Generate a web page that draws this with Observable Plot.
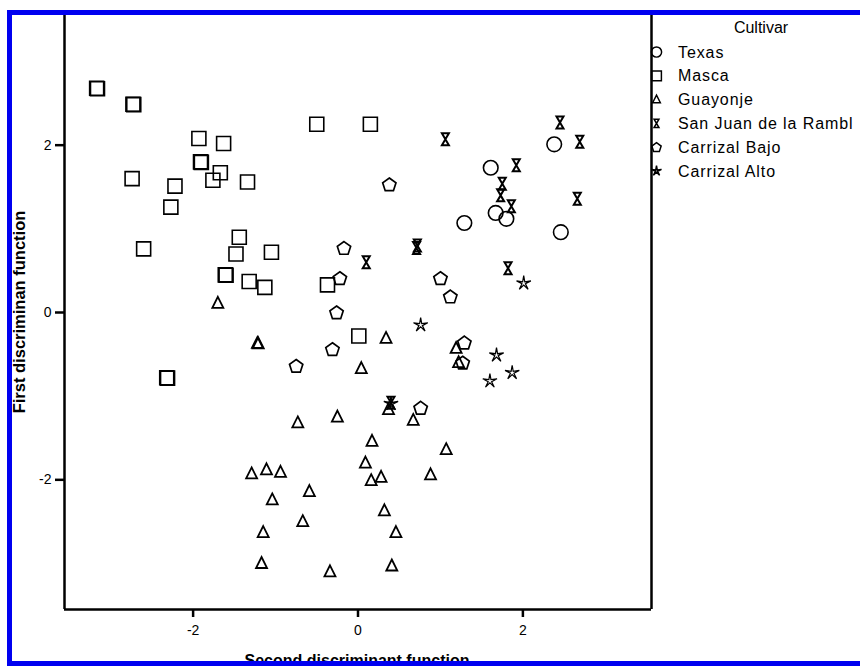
<!DOCTYPE html>
<html><head><meta charset="utf-8">
<script src="https://cdn.jsdelivr.net/npm/d3@7"></script>
<script src="https://cdn.jsdelivr.net/npm/@observablehq/plot@0.6"></script>
<style>body{margin:0;background:#fff}</style>
</head><body><div id="chart"></div>
<script>
// ---- Data ----
const cultivars = ["Texas", "Masca", "Guayonje", "San Juan de la Rambl", "Carrizal Bajo", "Carrizal Alto"];
const xTicks = [-2, 0, 2];
const yTicks = [-2, 0, 2];
const xDomain = [-3.56, 3.56];
const yDomain = [-3.55, 3.55];
const xTitle = "Second discriminant function";
const yTitle = "First discriminan function";
const legendTitle = "Cultivar";

const texas = [[1.61,1.73],[2.38,2.01],[1.67,1.19],[1.80,1.12],[1.29,1.07],[2.46,0.96]];
const masca = [[-3.17,2.68],[-3.16,2.675],[-2.73,2.49],[-2.72,2.485],[-1.93,2.08],[-1.63,2.02],[-1.91,1.80],[-1.90,1.795],
  [-1.67,1.67],[-1.76,1.58],[-1.34,1.56],[-2.74,1.60],[-2.22,1.51],[-2.27,1.26],[-2.60,0.76],[-1.44,0.90],
  [-1.48,0.70],[-1.05,0.72],[-1.61,0.45],[-1.60,0.445],[-1.32,0.37],[-1.13,0.30],[-0.50,2.25],[0.15,2.25],
  [-0.37,0.33],[0.01,-0.28],[-2.32,-0.78],[-2.31,-0.785]];
const guayonje = [[-1.70,0.11],[-1.22,-0.37],[-1.21,-0.375],[0.34,-0.31],[0.04,-0.67],[1.19,-0.43],[1.22,-0.60],
  [0.37,-1.16],[-0.73,-1.32],[-0.25,-1.25],[0.67,-1.29],[0.17,-1.54],[1.07,-1.64],[0.09,-1.80],
  [-1.29,-1.93],[-1.11,-1.88],[-0.94,-1.91],[0.16,-2.01],[0.28,-1.97],[0.88,-1.94],[-0.59,-2.14],
  [-1.04,-2.24],[0.32,-2.37],[-0.67,-2.50],[-1.15,-2.63],[0.46,-2.63],[-1.17,-3.00],[0.41,-3.03],[-0.34,-3.10]];
const sanJuan = [[1.06,2.07],[2.45,2.27],[2.69,2.04],[1.92,1.76],[1.75,1.54],[1.73,1.40],[1.86,1.27],[2.66,1.36],
  [1.82,0.53],[0.10,0.60],[0.71,0.77],[0.72,0.80],[0.40,-1.08]];
const carrizalBajo = [[0.38,1.53],[-0.17,0.77],[-0.22,0.41],[1.00,0.41],[1.12,0.19],[-0.26,0.00],[-0.31,-0.44],
  [-0.75,-0.64],[1.29,-0.36],[1.27,-0.60],[0.76,-1.14]];
const carrizalAlto = [[2.01,0.35],[0.76,-0.15],[1.68,-0.51],[1.87,-0.72],[1.60,-0.82],[0.40,-1.09]];

// ---- Symbols ----
function poly(c, pts){ c.moveTo(pts[0][0], pts[0][1]); for (let i=1;i<pts.length;i++) c.lineTo(pts[i][0], pts[i][1]); c.closePath(); }
const symCircle = {draw(c){ c.moveTo(7.3,0); c.arc(0,0,7.3,0,2*Math.PI); c.closePath(); }};
const symSquare = {draw(c){ poly(c, [[-7,-7],[7,-7],[7,7],[-7,7]]); }};
const symTriangle = {draw(c){ poly(c, [[0,-6.5],[5.5,4.5],[-5.5,4.5]]); }};
const symHourglass = {draw(c){ poly(c, [[-3.5,-6],[3.5,-6],[-3.5,6],[3.5,6]]); }};
const symPentagon = {draw(c){ const p=[]; for(let i=0;i<5;i++){const a=-Math.PI/2+i*2*Math.PI/5; p.push([7*Math.cos(a),7*Math.sin(a)+0.5]);} poly(c,p); }};
const symStar = {draw(c){ const p=[]; for(let i=0;i<10;i++){const a=-Math.PI/2+i*Math.PI/5; const r=i%2?1.8:7.5; p.push([r*Math.cos(a),r*Math.sin(a)]);} poly(c,p); }};

const series = [
  {name: cultivars[0], data: texas, symbol: symCircle, sw: 1.6},
  {name: cultivars[1], data: masca, symbol: symSquare, sw: 1.6},
  {name: cultivars[2], data: guayonje, symbol: symTriangle, sw: 1.8},
  {name: cultivars[3], data: sanJuan, symbol: symHourglass, sw: 2},
  {name: cultivars[4], data: carrizalBajo, symbol: symPentagon, sw: 1.7},
  {name: cultivars[5], data: carrizalAlto, symbol: symStar, sw: 1.2}
];

const FONT = "'Liberation Sans', Arial, sans-serif";

const chart = Plot.plot({
  width: 860, height: 666,
  marginLeft: 64, marginRight: 209, marginTop: 15, marginBottom: 57,
  style: {fontFamily: FONT, background: "white", overflow: "visible"},
  x: {domain: xDomain},
  y: {domain: yDomain},
  marks: [
    Plot.ruleX(xDomain, {stroke: "black", strokeWidth: 2.5}),
    Plot.ruleY([yDomain[0]], {stroke: "black", strokeWidth: 2.5}),
    Plot.axisX({ticks: xTicks, tickSize: 8, tickPadding: 8, fontSize: 14, strokeWidth: 2.5, label: null, tickFormat: d => String(d).replace("−","-")}),
    Plot.axisY({ticks: yTicks, tickSize: 9, tickPadding: 4, fontSize: 14, strokeWidth: 2.5, label: null, tickFormat: d => String(d).replace("−","-")}),
    ...series.map(s => Plot.dot(s.data, {x: d => d[0], y: d => d[1], symbol: s.symbol, stroke: "black", strokeWidth: s.sw, fill: "none"}))
  ]
});

const svg = d3.select(chart);

// axis titles
svg.append("text").attr("x", 357).attr("y", 665.5).attr("text-anchor", "middle")
  .attr("font-family", FONT).attr("font-size", 16).attr("font-weight", "bold").attr("fill", "black").text(xTitle);
svg.append("text").attr("transform", "translate(25,312) rotate(-90)").attr("text-anchor", "middle")
  .attr("font-family", FONT).attr("font-size", 16.5).attr("font-weight", "bold").attr("fill", "black").text(yTitle);

// legend
const lg = svg.append("g");
lg.append("text").attr("x", 761).attr("y", 27).attr("dy", "0.35em").attr("text-anchor", "middle")
  .attr("font-family", FONT).attr("font-size", 16).attr("fill", "black").text(legendTitle);
series.forEach((s, i) => {
  const y = 52 + i * 23.8;
  lg.append("path").attr("d", d3.symbol().type(s.symbol)())
    .attr("transform", `translate(656.5,${y}) scale(0.7)`)
    .attr("fill", "none").attr("stroke", "black").attr("stroke-width", 2.1);
  lg.append("text").attr("x", 678).attr("y", y).attr("dy", "0.35em").attr("text-anchor", "start")
    .attr("font-family", FONT).attr("font-size", 16).attr("letter-spacing", 0.9).attr("fill", "black").text(s.name);
});

// blue border
const border = svg.append("g").attr("fill", "#0000f0");
border.append("rect").attr("x", 7).attr("y", 10).attr("width", 853).attr("height", 5);
border.append("rect").attr("x", 7).attr("y", 10).attr("width", 5).attr("height", 656);
border.append("rect").attr("x", 7).attr("y", 661).attr("width", 853).attr("height", 5);

document.getElementById("chart").appendChild(chart);
</script>
</body></html>
